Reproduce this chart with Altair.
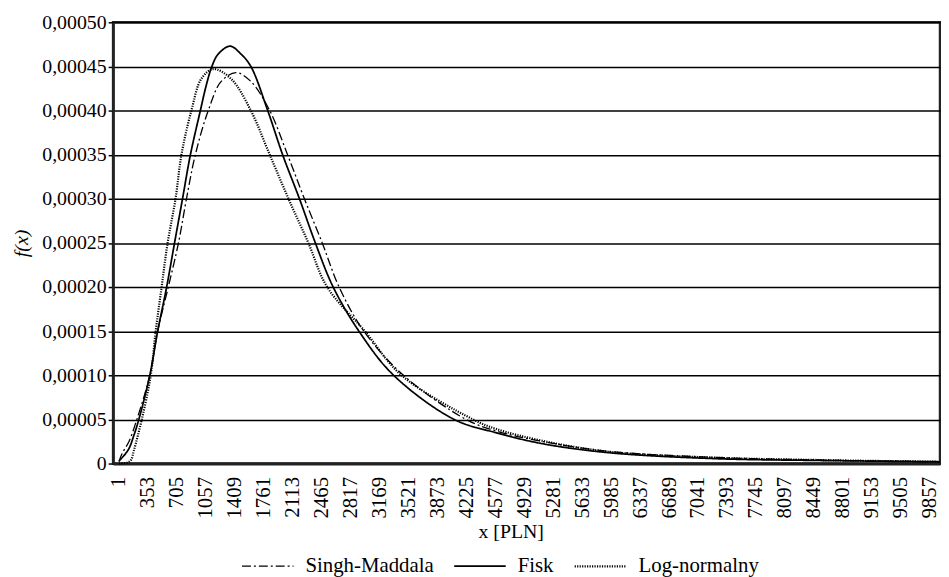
import altair as alt
import pandas as pd

# ---- data ----
series_names = ["Singh-Maddala", "Fisk", "Log-normalny"]

sm_x = [1, 37, 122, 218, 375, 471, 600, 724, 821, 929, 1086, 1243, 1424, 1604, 1833,
        2050, 2255, 2472, 2677, 2978, 3460, 4220, 4583, 5148, 5944, 7234, 8500, 9983]
sm_y = [0.000002, 0.000011, 0.000025, 0.00005, 0.0001, 0.00015, 0.0002, 0.00025, 0.0003,
        0.00035, 0.0004, 0.000433, 0.000443, 0.000433, 0.0004, 0.00035, 0.0003, 0.00025,
        0.0002, 0.00015, 0.0001, 0.00005, 0.000037, 0.000025, 0.000014, 0.000007,
        0.000004, 0.000002]

fk_x = [1, 61, 122, 182, 242, 375, 471, 580, 676, 773, 869, 990, 1060, 1130, 1207, 1351,
        1484, 1604, 1809, 1990, 2195, 2388, 2605, 2918, 3340, 4076, 4583, 5148, 5944, 7234,
        8500, 9983]
fk_y = [0.000003, 0.000009, 0.000017, 0.000032, 0.00005, 0.0001, 0.00015, 0.0002, 0.00025,
        0.0003, 0.00035, 0.0004, 0.000428, 0.00045, 0.000464, 0.000473, 0.000464, 0.00045,
        0.0004, 0.00035, 0.0003, 0.00025, 0.0002, 0.00015, 0.0001, 0.00005, 0.000035,
        0.0000225, 0.0000124, 0.0000056, 0.0000035, 0.000002]

ln_x = [1, 100, 146, 182, 278, 387, 447, 519, 592, 688, 760, 881, 1002, 1146, 1363, 1604,
        1833, 2062, 2303, 2532, 2990, 3436, 4305, 4583, 5148, 5944, 7234, 8500, 9983]
ln_y = [0.0, 0.000001, 0.000004, 0.000015, 0.00005, 0.0001, 0.00015, 0.0002, 0.00025,
        0.0003, 0.00035, 0.0004, 0.000436, 0.000447, 0.000436, 0.0004, 0.00035, 0.0003,
        0.00025, 0.0002, 0.00015, 0.0001, 0.00005, 0.0000393, 0.0000258, 0.0000135,
        0.0000067, 0.000004, 0.000002]

x_ticks = [1, 353, 705, 1057, 1409, 1761, 2113, 2465, 2817, 3169, 3521, 3873, 4225, 4577,
           4929, 5281, 5633, 5985, 6337, 6689, 7041, 7393, 7745, 8097, 8449, 8801, 9153,
           9505, 9857]
y_ticks = [0, 0.00005, 0.0001, 0.00015, 0.0002, 0.00025, 0.0003, 0.00035, 0.0004,
           0.00045, 0.0005]

rows = []
for name, xs, ys in zip(series_names, [sm_x, fk_x, ln_x], [sm_y, fk_y, ln_y]):
    for i, (a, b) in enumerate(zip(xs, ys)):
        rows.append({"series": name, "x": a, "y": b, "order": i})
df = pd.DataFrame(rows)

FONT = "'Liberation Serif', 'Times New Roman', 'DejaVu Serif', serif"

chart = alt.Chart(df).mark_line(color="black", interpolate="catmull-rom").encode(
    x=alt.X("x:Q",
            scale=alt.Scale(domain=[-71, 9983], nice=False, zero=False),
            axis=alt.Axis(values=x_ticks, title="x  [PLN]", labelAngle=-90,
                          labelExpr="format(datum.value, 'd')", grid=False, ticks=False,
                          labelPadding=13, labelOverlap=False, labelFlush=False,
                          labelBound=False, titlePadding=4, domainWidth=3,
                          domainColor="#222", titleX=401, titleAlign="center",
                          labelFont=FONT, labelFontSize=21, labelColor="black",
                          titleFont=FONT, titleFontSize=20, titleColor="black",
                          titleFontWeight="normal")),
    y=alt.Y("y:Q",
            scale=alt.Scale(domain=[0, 0.0005], nice=False),
            axis=alt.Axis(values=y_ticks, title="f(x)", titleFontStyle="italic",
                          labelExpr="datum.value == 0 ? '0' : replace(format(datum.value, '.5f'), '.', ',')",
                          grid=True, gridColor="black", gridWidth=1.5, gridOpacity=1,
                          tickSize=5, tickColor="black", tickWidth=1.5, labelPadding=2,
                          titlePadding=10, domainWidth=2.5, domainColor="#222",
                          labelFont=FONT, labelFontSize=20, labelColor="black",
                          titleFont=FONT, titleFontSize=20, titleColor="black",
                          titleFontWeight="normal")),
    strokeDash=alt.StrokeDash("series:N",
                              scale=alt.Scale(domain=series_names,
                                              range=[[9, 3, 2, 3], [1, 0], [1.2, 1.3]]),
                              legend=alt.Legend(title=None, orient="none",
                                                legendX=129, legendY=521,
                                                direction="horizontal",
                                                symbolType="stroke", symbolSize=2700,
                                                symbolStrokeColor="black",
                                                symbolStrokeWidth=1.5,
                                                labelFont=FONT, labelFontSize=21,
                                                labelColor="black", columnPadding=16,
                                                labelOffset=11)),
    strokeWidth=alt.StrokeWidth("series:N",
                                scale=alt.Scale(domain=series_names, range=[1.3, 2.2, 1.1]),
                                legend=None),
    order="order:Q",
).properties(
    width=834, height=445,
    background="white",
    autosize=alt.AutoSizeParams(type="none"),
    padding={"left": 106, "top": 12, "right": 1, "bottom": 112},
).configure_view(
    stroke="#222", strokeWidth=2.5
).configure_legend(
    labelFont=FONT, labelFontSize=21, labelColor="black"
)

chart.save("out.html", embed_options={"renderer": "svg", "actions": False})
